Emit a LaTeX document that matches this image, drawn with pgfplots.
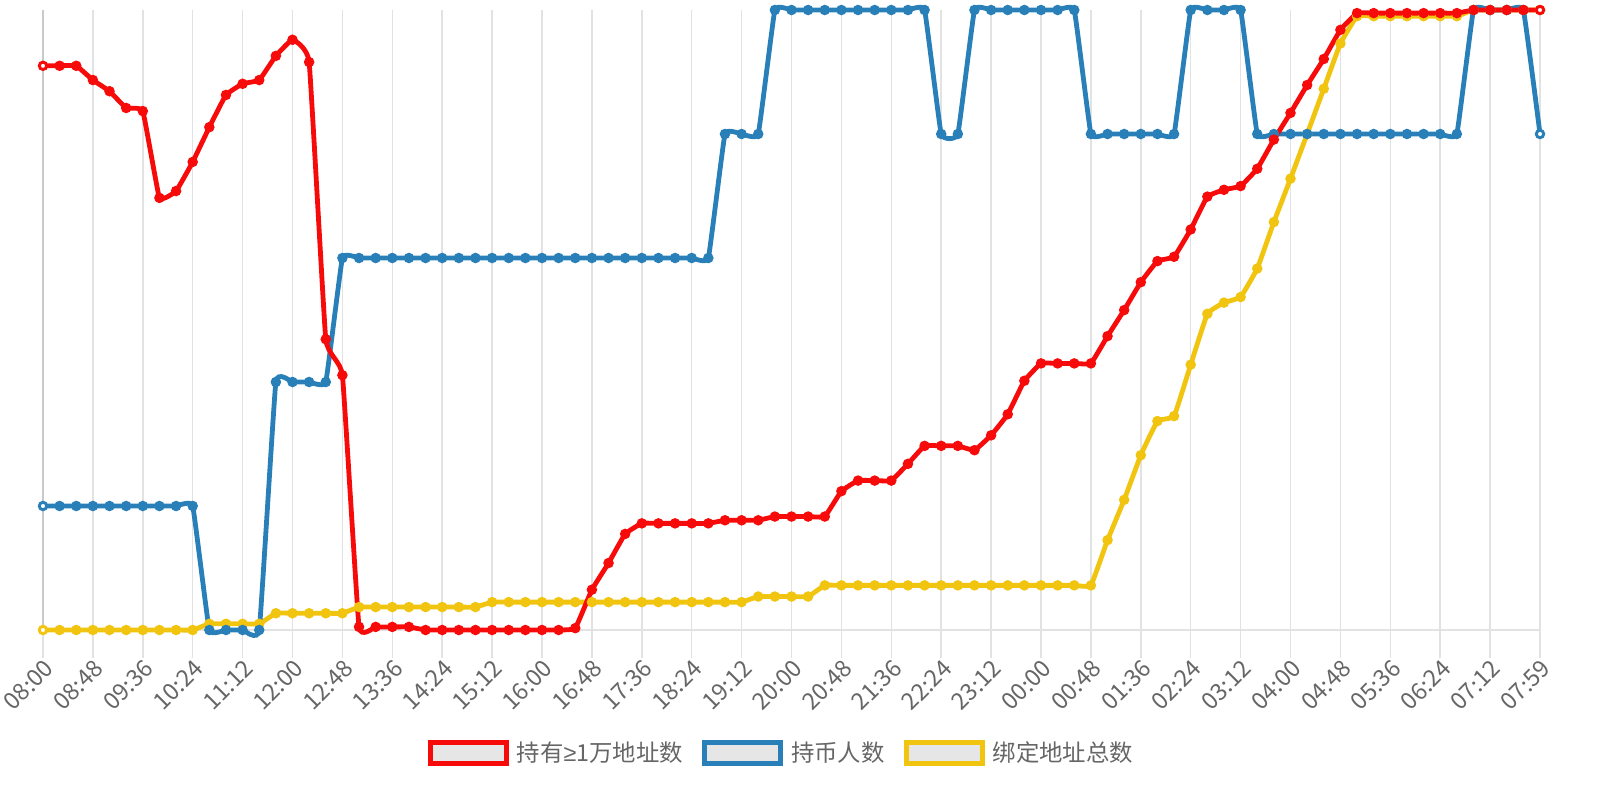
\documentclass[border=0pt]{standalone}
\usepackage{fontspec}
\setmainfont{Noto Sans CJK SC}
\newfontfamily\symfont{Liberation Sans}
\usepackage{pgfplots}
\usepackage{pgfplotstable}
\pgfplotsset{compat=1.18}

\definecolor{cred}{HTML}{F70A0A}
\definecolor{cblue}{HTML}{2980B9}
\definecolor{cyellow}{HTML}{F1C40F}
\definecolor{cgrid}{HTML}{E2E2E2}
\definecolor{caxis}{HTML}{CACACA}
\definecolor{ctext}{HTML}{666666}
\definecolor{cbox}{HTML}{E6E6E6}

% each series on its own 0-100 scale, 16-minute steps
\pgfplotstableread{
i  red   blue  yellow
0  91.0  20    0
1  91.0  20    0
2  91.0  20    0
3  88.7  20    0
4  86.9  20    0
5  84.2  20    0
6  83.7  20    0
7  69.7  20    0
8  70.8  20    0
9  75.5  20    0
10 81.1  0     1.0
11 86.3  0     1.0
12 88.1  0     1.0
13 88.7  0     1.0
14 92.6  40    2.7
15 95.2  40    2.7
16 91.6  40    2.7
17 46.9  40    2.7
18 41.1  60    2.7
19 0.5   60    3.7
20 0.5   60    3.7
21 0.5   60    3.7
22 0.5   60    3.7
23 0     60    3.7
24 0     60    3.7
25 0     60    3.7
26 0     60    3.7
27 0     60    4.5
28 0     60    4.5
29 0     60    4.5
30 0     60    4.5
31 0     60    4.5
32 0.3   60    4.5
33 6.5   60    4.5
34 10.8  60    4.5
35 15.5  60    4.5
36 17.2  60    4.5
37 17.2  60    4.5
38 17.2  60    4.5
39 17.2  60    4.5
40 17.2  60    4.5
41 17.7  80    4.5
42 17.7  80    4.5
43 17.7  80    5.4
44 18.3  100   5.4
45 18.3  100   5.4
46 18.3  100   5.4
47 18.3  100   7.2
48 22.4  100   7.2
49 24.1  100   7.2
50 24.1  100   7.2
51 24.1  100   7.2
52 26.8  100   7.2
53 29.7  100   7.2
54 29.7  80    7.2
55 29.7  80    7.2
56 29.0  100   7.2
57 31.4  100   7.2
58 34.8  100   7.2
59 40.2  100   7.2
60 43.0  100   7.2
61 43.0  100   7.2
62 43.0  100   7.2
63 43.0  80    7.2
64 47.4  80    14.5
65 51.6  80    21.0
66 56.1  80    28.2
67 59.5  80    33.7
68 60.2  80    34.5
69 64.6  100   42.8
70 69.9  100   51.0
71 71.0  100   52.8
72 71.6  100   53.7
73 74.4  80    58.3
74 79.1  80    65.8
75 83.4  80    72.8
76 87.9  80    80.0
77 92.1  80    87.3
78 96.8  80    94.6
79 99.5  80    99.0
80 99.5  80    99.0
81 99.5  80    99.0
82 99.5  80    99.0
83 99.5  80    99.0
84 99.5  80    99.0
85 99.5  80    99.0
86 100   100   100
87 100   100   100
88 100   100   100
89 100   100   100
90 100   80    100
}\datatable

\pgfplotsset{
  series/.style={#1, line width=2.4pt, smooth, tension=0.18, mark=*,
    mark size=1.35pt, mark options={draw=none, fill=#1!90!black}},
  endpoint/.style={only marks, mark=*, mark size=1.5pt,
    mark options={draw=#1, fill=white, line width=0.8pt}, forget plot}
}

\begin{document}
\begin{tikzpicture}
\useasboundingbox (0,0) rectangle (800pt,400pt);
\begin{axis}[
  at={(21.5pt,85pt)}, anchor=south west,
  scale only axis, width=748.5pt, height=310pt,
  xmin=0, xmax=90, ymin=0, ymax=100,
  clip=false,
  axis x line=bottom, axis y line=left,
  axis line style={-, draw=cgrid, line width=0.75pt},
  y axis line style={draw=caxis},
  ytick=\empty,
  xtick={0,3,...,90},
  xticklabels={08:00,08:48,09:36,10:24,11:12,12:00,12:48,13:36,14:24,15:12,
    16:00,16:48,17:36,18:24,19:12,20:00,20:48,21:36,22:24,23:12,00:00,00:48,
    01:36,02:24,03:12,04:00,04:48,05:36,06:24,07:12,07:59},
  xmajorgrids, grid style={draw=cgrid, line width=0.75pt},
  tick align=outside, major tick length=14pt,
  x tick style={draw=cgrid, line width=0.75pt},
  xticklabel style={rotate=45, anchor=north east, inner sep=0pt,
    font=\fontsize{11.7}{12}\selectfont, text=ctext},
  legend style={at={(0.494,-0.198)}, anchor=center, draw=none, fill=none,
    legend columns=3, font=\fontsize{11.7}{12}\selectfont, text=ctext,
    /tikz/every odd column/.append style={column sep=2pt},
    /tikz/every even column/.append style={column sep=7.5pt}},
  legend cell align=left,
  reverse legend,
  legend image code/.code={
    \draw[#1, line width=2.5pt, fill=cbox] (1.25pt,-5.25pt) rectangle (39.25pt,5.25pt);}
]
\addplot[series=cyellow] table[x=i, y=yellow] {\datatable};
\addlegendentry{绑定地址总数}
\addplot[endpoint=cyellow] coordinates {(0,0)};

\addplot[series=cblue] table[x=i, y=blue] {\datatable};
\addlegendentry{持币人数}
\addplot[endpoint=cblue] coordinates {(0,20) (90,80)};

\addplot[series=cred] table[x=i, y=red] {\datatable};
\addlegendentry{持有{\symfont ≥}1万地址数}
\addplot[endpoint=cred] coordinates {(0,91.0) (90,100)};
\end{axis}
\end{tikzpicture}
\end{document}
